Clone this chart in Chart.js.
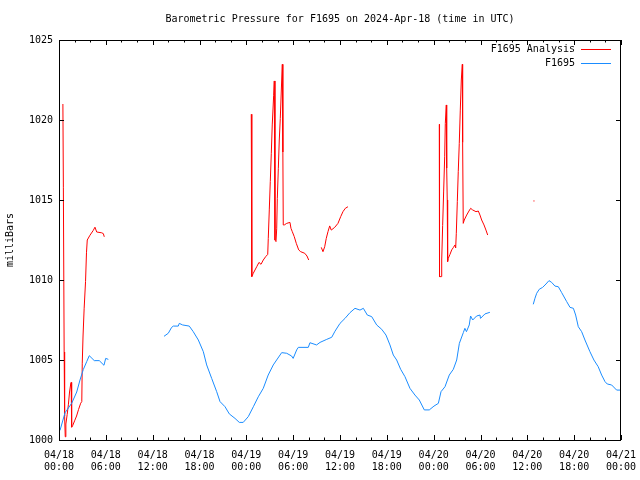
<!DOCTYPE html>
<html>
<head>
<meta charset="utf-8">
<title>Barometric Pressure for F1695</title>
<script src="https://cdn.jsdelivr.net/npm/chart.js@4.4.1/dist/chart.umd.min.js"></script>
<style>
  html, body { margin: 0; padding: 0; background: #fff; }
</style>
</head>
<body>
<canvas id="chart" width="640" height="480"></canvas>
<script>
// hours since 04/18 00:00 UTC, null values break the line
const analysisHours = [
  0.50, 0.56, 0.66, 0.72, 0.80, 0.88, 1.05, 1.20, 1.35, 1.50, 1.56, 1.62, 1.75, 2.00, 2.25, 2.50,
  2.78, 2.92, 2.98, 3.08, 3.22, 3.40, 3.52, 3.62, 3.97, 4.39, 4.61, 4.83, 5.47, 5.68, 5.80,
  15.0,
  24.63, 24.68, 24.72, 24.89, 25.33, 25.62, 25.88, 26.17, 26.48, 26.74, 26.81, 26.94, 27.07, 27.20,
  27.32, 27.50, 27.58, 27.67, 27.80, 27.89, 27.97, 28.10, 28.22, 28.35, 28.53, 28.61, 28.68, 28.73,
  28.86, 29.17, 29.59, 29.72, 29.89, 30.14, 30.40, 30.71, 30.96, 31.48, 31.77, 31.99,
  32.8,
  33.60, 33.82, 34.04, 34.24, 34.46, 34.68, 34.88, 35.32, 35.74, 36.09, 36.38, 36.68, 37.02,
  43.0,
  48.72, 48.75, 49.00, 49.03, 49.15, 49.28, 49.41, 49.49, 49.62, 49.67, 49.74, 49.79, 49.87, 50.09,
  50.31, 50.51, 50.73, 50.82, 50.90, 51.03, 51.15, 51.28, 51.41, 51.54, 51.67, 51.71, 51.79, 51.92,
  52.23, 52.52, 52.74, 52.99, 53.42, 53.72, 53.93, 54.15, 54.45, 54.70, 54.92,
  58.0,
  60.78, 60.92
];
const analysisValues = [
  1021.0, 1015.8, 1005.5, 1001.5, 1000.2, 1001.0, 1001.6, 1002.2, 1003.0, 1003.5, 1003.6, 1000.8, 1000.9, 1001.2, 1001.5, 1001.9,
  1002.3, 1002.4, 1004.8, 1006.5, 1008.2, 1009.9, 1011.7, 1012.5, 1012.8, 1013.1, 1013.3, 1013.0, 1012.95, 1012.9, 1012.7,
  null,
  1020.36, 1015.2, 1010.21, 1010.42, 1010.83, 1011.1, 1010.98, 1011.25, 1011.46, 1011.6, 1012.6, 1014.38, 1016.15, 1017.92,
  1019.69, 1021.52, 1022.44, 1012.5, 1012.4, 1013.2, 1015.1, 1016.98, 1018.75, 1020.1, 1022.5, 1023.48, 1018.0, 1013.44,
  1013.44, 1013.54, 1013.6, 1013.23, 1013.02, 1012.71, 1012.29, 1011.88, 1011.77, 1011.67, 1011.5, 1011.25,
  null,
  1012.04, 1011.77, 1012.08, 1012.6, 1013.02, 1013.38, 1013.12, 1013.29, 1013.54, 1013.96, 1014.27, 1014.48, 1014.58,
  null,
  1019.73, 1010.21, 1010.21, 1011.25, 1013.4, 1015.56, 1017.7, 1019.79, 1020.94, 1017.0, 1015.0, 1011.15, 1011.35, 1011.6,
  1011.88, 1012.02, 1012.19, 1012.0, 1012.92, 1014.9, 1016.77, 1018.54, 1020.62, 1022.5, 1023.48, 1018.6, 1013.54, 1013.75,
  1014.06, 1014.31, 1014.48, 1014.38, 1014.27, 1014.31, 1014.06, 1013.75, 1013.44, 1013.12, 1012.81,
  null,
  1014.94, 1014.94
];

const sensorHours = [
  0.13, 0.77, 1.63, 2.27, 2.69, 3.11, 3.55, 3.88, 4.52, 5.16, 5.76, 5.98, 6.32,
  10.0,
  13.45, 14.00, 14.43, 14.65, 15.28, 15.41, 15.84, 16.69, 17.20, 17.85, 18.49, 18.92, 19.56, 20.20,
  20.63, 21.27, 21.82, 22.55, 23.10, 23.60, 24.25, 24.90, 25.53, 26.17, 26.80, 27.45, 27.88, 28.53,
  29.17, 29.80, 30.00, 30.45, 30.66, 31.94, 32.15, 33.00, 33.44, 34.30, 34.94, 35.36, 36.00, 36.64,
  37.28, 37.92, 38.56, 38.99, 39.50, 40.06, 40.70, 41.34, 41.89, 42.40, 42.83, 43.26, 43.77, 44.32,
  44.96, 45.60, 46.16, 46.80, 47.44, 48.04, 48.60, 48.94, 49.45, 50.00, 50.52, 50.95, 51.29, 51.80,
  52.00, 52.20, 52.56, 52.73, 53.00, 53.50, 53.93, 54.00, 54.57, 55.20,
  58.0,
  60.76, 60.98, 61.20, 61.53, 61.96, 62.39, 62.77, 63.12, 63.54, 63.97, 64.40, 65.04, 65.47, 65.90,
  66.19, 66.53, 66.96, 67.38, 68.02, 68.53, 69.08, 69.52, 69.95, 70.24, 70.80, 71.44, 72.00
];
const sensorValues = [
  1000.6, 1001.7, 1002.3, 1003.0, 1003.75, 1004.4, 1004.9, 1005.27, 1004.96, 1004.96, 1004.67, 1005.1, 1005.04,
  null,
  1006.48, 1006.67, 1007.04, 1007.12, 1007.12, 1007.29, 1007.19, 1007.12, 1006.77, 1006.25, 1005.52, 1004.69, 1003.85, 1003.02,
  1002.4, 1002.08, 1001.63, 1001.35, 1001.1, 1001.1, 1001.46, 1002.08, 1002.7, 1003.23, 1004.06, 1004.69, 1005.0, 1005.46,
  1005.42, 1005.25, 1005.1, 1005.63, 1005.79, 1005.79, 1006.08, 1005.94, 1006.1, 1006.29, 1006.42, 1006.8, 1007.29, 1007.6,
  1007.96, 1008.23, 1008.12, 1008.23, 1007.81, 1007.71, 1007.19, 1006.92, 1006.56, 1005.94, 1005.31, 1005.0, 1004.42, 1003.96,
  1003.23, 1002.81, 1002.5, 1001.88, 1001.88, 1002.12, 1002.29, 1003.02, 1003.33, 1004.06, 1004.42, 1005.0, 1006.04, 1006.71,
  1006.98, 1006.77, 1007.19, 1007.75, 1007.5, 1007.75, 1007.81, 1007.6, 1007.88, 1007.98,
  null,
  1008.48, 1008.86, 1009.17, 1009.42, 1009.54, 1009.75, 1009.96, 1009.85, 1009.62, 1009.58, 1009.21, 1008.65, 1008.29, 1008.23,
  1007.81, 1007.08, 1006.77, 1006.25, 1005.52, 1005.0, 1004.58, 1004.06, 1003.65, 1003.5, 1003.44, 1003.12, 1003.12
];

const tickDays = ["04/18", "04/18", "04/18", "04/18", "04/19", "04/19", "04/19", "04/19",
  "04/20", "04/20", "04/20", "04/20", "04/21"];
const tickTimes = ["00:00", "06:00", "12:00", "18:00", "00:00", "06:00", "12:00", "18:00",
  "00:00", "06:00", "12:00", "18:00", "00:00"];

const titleText = "Barometric Pressure for F1695 on 2024-Apr-18 (time in UTC)";
const monoFont = "'DejaVu Sans Mono', 'Liberation Mono', monospace";
const redColor = "#ff0000";
const blueColor = "#1a8cff";
const legendColors = [redColor, blueColor];

const toPoints = (hours, values) => hours.map((h, i) => ({ x: h, y: values[i] }));

// frame, inward ticks (gnuplot look), title and legend
const gnuplotLook = {
  id: "gnuplotLook",
  afterDraw(chart) {
    const { ctx, chartArea: a, scales } = chart;
    const xs = scales.x, ys = scales.y;
    ctx.save();
    ctx.strokeStyle = "#000";
    ctx.lineWidth = 1;
    ctx.beginPath();
    ctx.rect(a.left + 0.5, a.top + 0.5, a.right - a.left - 1, a.bottom - a.top);
    for (let h = 0; h <= 72; h += 2) {
      const px = Math.round(xs.getPixelForValue(h)) + 0.5;
      const len = h % 6 === 0 ? 5 : 2.5;
      ctx.moveTo(px, a.bottom); ctx.lineTo(px, a.bottom - len);
      ctx.moveTo(px, a.top); ctx.lineTo(px, a.top + len);
    }
    for (let v = 1000; v <= 1025; v += 5) {
      const py = Math.round(ys.getPixelForValue(v)) + 0.5;
      ctx.moveTo(a.left, py); ctx.lineTo(a.left + 5, py);
      ctx.moveTo(a.right, py); ctx.lineTo(a.right - 5, py);
    }
    ctx.stroke();

    ctx.fillStyle = "#000";
    ctx.font = "10px " + monoFont;
    ctx.textAlign = "center";
    ctx.textBaseline = "middle";
    ctx.fillText(titleText, (a.left + a.right) / 2, 19);

    ctx.textAlign = "right";
    chart.data.datasets.forEach((ds, i) => {
      const y = 49 + i * 14;
      ctx.fillStyle = "#000";
      ctx.fillText(ds.label, 575, y);
      ctx.fillStyle = legendColors[i];
      ctx.fillRect(581, y, 30, 1);
    });
    ctx.restore();
  }
};

new Chart(document.getElementById("chart"), {
  type: "line",
  data: {
    datasets: [
      {
        label: "F1695 Analysis",
        data: toPoints(analysisHours, analysisValues),
        borderColor: redColor,
        borderWidth: 1,
        pointRadius: 0,
        tension: 0,
        spanGaps: false,
        order: 1
      },
      {
        label: "F1695",
        data: toPoints(sensorHours, sensorValues),
        borderColor: blueColor,
        borderWidth: 1,
        pointRadius: 0,
        tension: 0,
        spanGaps: false,
        order: 0
      }
    ]
  },
  options: {
    responsive: false,
    animation: false,
    devicePixelRatio: 1,
    layout: { padding: { left: 0, right: 19, top: 40, bottom: 0 } },
    plugins: {
      legend: { display: false },
      title: { display: false },
      tooltip: { enabled: false }
    },
    scales: {
      x: {
        type: "linear",
        min: 0,
        max: 72,
        grid: { display: false, drawTicks: false },
        border: { display: false },
        ticks: {
          stepSize: 6,
          autoSkip: false,
          maxRotation: 0,
          padding: 9,
          color: "#000",
          font: { family: monoFont, size: 10 },
          callback: (v) => [tickDays[v / 6], tickTimes[v / 6]]
        },
        afterFit: (scale) => {
          scale.height = 40;
          scale.paddingLeft = 0;
          scale.paddingRight = 0;
        }
      },
      y: {
        min: 1000,
        max: 1025,
        grid: { display: false, drawTicks: false },
        border: { display: false },
        ticks: {
          stepSize: 5,
          padding: 6,
          color: "#000",
          font: { family: monoFont, size: 10 },
          callback: (v) => String(v)
        },
        title: {
          display: true,
          text: "milliBars",
          color: "#000",
          font: { family: monoFont, size: 10 },
          padding: { top: 4, bottom: 4 }
        },
        afterFit: (scale) => {
          scale.width = 59;
          scale.paddingTop = 0;
          scale.paddingBottom = 0;
        }
      }
    }
  },
  plugins: [gnuplotLook]
});
</script>
</body>
</html>
